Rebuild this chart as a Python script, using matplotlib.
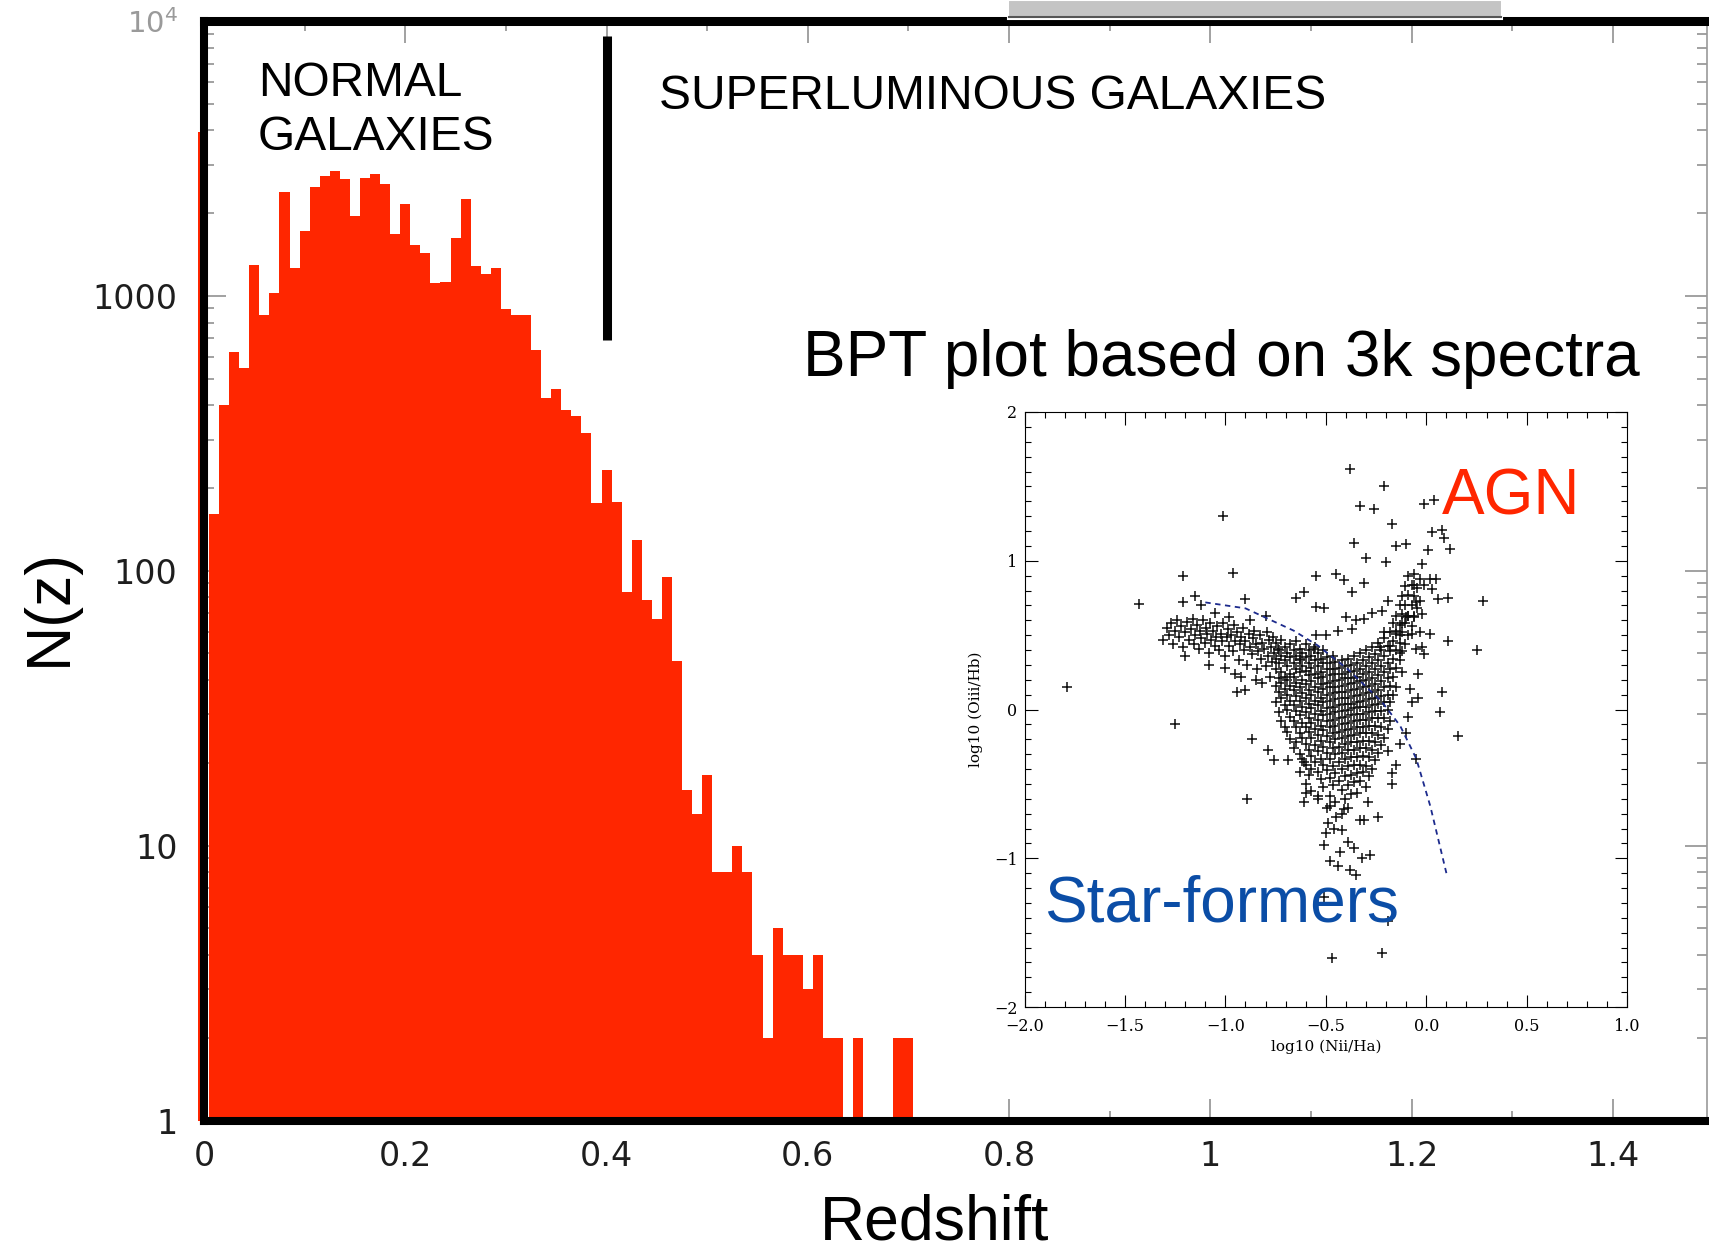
import numpy as np
import matplotlib
matplotlib.use("Agg")
import matplotlib.pyplot as plt
from matplotlib.patches import Rectangle

W, H = 1709, 1255
RED = "#FF2600"
BLUE = "#0B4DA6"
SANS = ["Liberation Sans", "DejaVu Sans"]

# ---------------- histogram data (N(z) per 0.01 bin) ----------------
z_centers = np.round(np.arange(0.01, 0.705, 0.01), 2)
counts = [161, 402, 624, 547, 1291, 849, 1021, 2387, 1266, 1721,
          2489, 2729, 2845, 2653, 1951, 2692, 2767, 2543, 1683, 2163,
          1537, 1434, 1116, 1120, 1627, 2243, 1282, 1206, 1266, 898,
          849, 849, 638, 426, 459, 384, 367, 318, 177, 232,
          178, 84, 129, 78, 67, 95, 47, 16, 13, 18,
          8, 8, 10, 8, 4, 2, 5, 4, 4, 3,
          4, 2, 2, 1, 2, 1, 1, 1, 2, 2]
z0_count = 3940          # z ~ 0 bin, mostly hidden behind the axis
divider_z = 0.4

x_ticks = [0, 0.2, 0.4, 0.6, 0.8, 1.0, 1.2, 1.4]
x_ticklabels = ["0", "0.2", "0.4", "0.6", "0.8", "1", "1.2", "1.4"]
y_ticks = [1, 10, 100, 1000, 10000]
y_ticklabels = ["1", "10", "100", "1000", r"$10^4$"]

# ---------------- BPT inset data ----------------
# isolated points
out_x = [-0.38, -0.21, -0.33, -0.26, -0.17, -0.01, 0.04, -1.01, 0.03, 0.08,
         0.09, 0.12, -0.36, -0.15, -0.10, 0.01, -0.30, -0.20, -0.02, -0.96,
         -1.21, -1.43, -0.55, -0.45, -0.41, -0.31, -0.37, -0.61, -0.65, -0.90,
         -1.15, -1.21, 0.28, 0.11, 0.06, 0.03, -0.01, 0.02, 0.05, -0.06,
         -0.05, 0.25, 0.11, 0.02, -0.03, -0.07, -0.02, -0.06, -0.10, 0.08,
         0.07, 0.16, -1.79, -1.25, -0.89, -0.87, -0.79, -0.76, -0.69, -0.61,
         -0.51, -0.48, -0.44, -0.43, -0.38, -0.35, -0.32, -0.28, -0.36, -0.39,
         -0.42, -0.46, -0.50, -0.49, -0.45, -0.33, -0.31, -0.24, -0.41, -0.48,
         -0.54, -0.60, -0.61, -0.29, -0.19, -0.22, -0.47, -0.51, -0.17, -0.17,
         -0.15, -0.13, -0.10, -0.05, -0.09, -0.07, -0.04, -0.08, -0.04, -0.01,
         -0.02, -0.05, -0.13, -0.18, -0.23, -0.13, -0.15, -0.21, -0.12, -0.09,
         -0.19, -0.22, -0.27, -0.31, -0.35, -0.40, -0.37, -0.44, -0.50, -0.55,
         -0.55, -0.51, -0.56, -0.63, -0.74, -1.12, -1.05, -0.98, -0.88, -0.80,
         -1.20, -1.00, -0.92, -0.94, -0.90, -0.85, -0.82, -0.95, -1.08]
out_y = [1.62, 1.50, 1.37, 1.35, 1.25, 1.38, 1.41, 1.30, 1.19, 1.21,
         1.15, 1.08, 1.12, 1.10, 1.11, 1.07, 1.02, 0.99, 0.98, 0.92,
         0.90, 0.71, 0.90, 0.91, 0.87, 0.85, 0.79, 0.79, 0.75, 0.74,
         0.76, 0.72, 0.73, 0.75, 0.74, 0.81, 0.84, 0.88, 0.88, 0.84,
         0.72, 0.40, 0.46, 0.51, 0.52, 0.51, 0.64, 0.63, 0.62, 0.12,
         -0.02, -0.18, 0.15, -0.10, -0.60, -0.20, -0.27, -0.34, -0.34, -0.35,
         -0.91, -1.02, -1.05, -0.96, -1.08, -1.11, -1.00, -0.98, -0.93, -0.89,
         -0.81, -0.80, -0.83, -0.76, -0.72, -0.74, -0.74, -0.72, -0.67, -0.65,
         -0.58, -0.56, -0.62, -0.62, -1.42, -1.64, -1.67, -1.26, -0.50, -0.43,
         -0.37, -0.23, -0.16, -0.33, -0.05, 0.05, 0.08, 0.14, 0.24, 0.37,
         0.42, 0.41, 0.38, 0.43, 0.42, 0.50, 0.53, 0.52, 0.58, 0.63,
         0.73, 0.66, 0.65, 0.61, 0.60, 0.62, 0.54, 0.53, 0.50, 0.50,
         0.69, 0.68, 0.41, 0.34, 0.41, 0.70, 0.65, 0.62, 0.60, 0.63,
         0.36, 0.28, 0.22, 0.12, 0.13, 0.20, 0.18, 0.24, 0.30]

# left (star-forming) arm
arm_x = [-1.31, -1.29, -1.28, -1.27, -1.26, -1.25, -1.24, -1.23, -1.22, -1.21,
         -1.20, -1.19, -1.18, -1.17, -1.16, -1.155, -1.15, -1.14, -1.13, -1.125,
         -1.12, -1.11, -1.10, -1.095, -1.09, -1.08, -1.075, -1.07, -1.06, -1.05,
         -1.045, -1.04, -1.03, -1.02, -1.015, -1.01, -1.00, -0.99, -0.985, -0.98,
         -0.97, -0.96, -0.955, -0.95, -0.94, -0.93, -0.925, -0.92, -0.91, -0.905,
         -0.90, -0.89, -0.885, -0.88, -0.87, -0.865, -0.86, -0.85, -0.845, -0.84,
         -0.83, -0.825, -0.82, -0.81, -0.80, -0.795, -0.79, -0.785, -0.78, -0.775,
         -0.77, -0.765, -0.76]
arm_y = [0.47, 0.55, 0.50, 0.58, 0.44, 0.53, 0.60, 0.49, 0.56, 0.42,
         0.52, 0.59, 0.47, 0.54, 0.61, 0.44, 0.50, 0.57, 0.41, 0.53,
         0.48, 0.60, 0.45, 0.55, 0.51, 0.38, 0.58, 0.47, 0.53, 0.43,
         0.49, 0.56, 0.40, 0.51, 0.46, 0.58, 0.36, 0.49, 0.54, 0.43,
         0.50, 0.39, 0.57, 0.46, 0.52, 0.33, 0.44, 0.49, 0.55, 0.40,
         0.46, 0.30, 0.51, 0.42, 0.37, 0.48, 0.53, 0.44, 0.27, 0.39,
         0.50, 0.34, 0.45, 0.41, 0.29, 0.52, 0.36, 0.47, 0.22, 0.42,
         0.32, 0.49, 0.38]

# dense central clump, column by column
core_cols = [
    (-0.748, [0.45, 0.34, 0.27, 0.16, 0.05]),
    (-0.733, [0.40, 0.31, 0.21, 0.12, -0.02]),
    (-0.721, [0.47, 0.36, 0.25, 0.18, 0.08, -0.08]),
    (-0.704, [0.42, 0.33, 0.22, 0.14, 0.03, -0.12]),
    (-0.692, [0.38, 0.29, 0.20, 0.10, 0.00, -0.15]),
    (-0.676, [0.44, 0.35, 0.24, 0.16, 0.06, -0.05, -0.20]),
    (-0.659, [0.40, 0.31, 0.22, 0.13, 0.03, -0.08, -0.26]),
    (-0.647, [0.46, 0.36, 0.27, 0.18, 0.09, -0.01, -0.12, -0.22]),
    (-0.628, [0.41, 0.33, 0.25, 0.15, 0.06, -0.04, -0.16, -0.30, -0.42]),
    (-0.617, [0.38, 0.29, 0.20, 0.11, 0.02, -0.09, -0.19, -0.33]),
    (-0.601, [0.44, 0.35, 0.26, 0.17, 0.08, -0.02, -0.12, -0.23, -0.37, -0.50]),
    (-0.584, [0.40, 0.31, 0.23, 0.13, 0.04, -0.06, -0.15, -0.27, -0.44]),
    (-0.572, [0.36, 0.28, 0.19, 0.10, 0.01, -0.09, -0.19, -0.31, -0.40, -0.55]),
    (-0.553, [0.42, 0.33, 0.24, 0.15, 0.06, -0.03, -0.13, -0.24, -0.35]),
    (-0.541, [0.38, 0.29, 0.21, 0.12, 0.03, -0.07, -0.17, -0.28, -0.42, -0.60]),
    (-0.524, [0.34, 0.25, 0.17, 0.08, -0.01, -0.11, -0.21, -0.33, -0.47]),
    (-0.512, [0.40, 0.31, 0.22, 0.14, 0.05, -0.04, -0.14, -0.25, -0.37, -0.52]),
    (-0.493, [0.35, 0.27, 0.18, 0.10, 0.01, -0.08, -0.18, -0.29, -0.41, -0.66]),
    (-0.481, [0.31, 0.23, 0.15, 0.06, -0.03, -0.12, -0.22, -0.33, -0.46, -0.58]),
    (-0.464, [0.36, 0.27, 0.19, 0.11, 0.02, -0.07, -0.16, -0.26, -0.38, -0.51]),
    (-0.452, [0.32, 0.24, 0.15, 0.07, -0.02, -0.11, -0.20, -0.30, -0.43, -0.62]),
    (-0.433, [0.28, 0.20, 0.12, 0.03, -0.06, -0.15, -0.25, -0.35, -0.48]),
    (-0.421, [0.33, 0.24, 0.16, 0.08, -0.01, -0.10, -0.19, -0.29, -0.40, -0.54, -0.70]),
    (-0.404, [0.29, 0.21, 0.12, 0.04, -0.05, -0.14, -0.23, -0.33, -0.45, -0.60]),
    (-0.392, [0.34, 0.25, 0.17, 0.08, 0.00, -0.09, -0.18, -0.27, -0.38, -0.51, -0.66]),
    (-0.373, [0.30, 0.21, 0.13, 0.04, -0.04, -0.13, -0.22, -0.32, -0.44, -0.57]),
    (-0.361, [0.36, 0.26, 0.18, 0.09, 0.01, -0.08, -0.17, -0.27, -0.37, -0.49]),
    (-0.344, [0.31, 0.22, 0.14, 0.05, -0.03, -0.12, -0.22, -0.32, -0.43, -0.56]),
    (-0.332, [0.38, 0.27, 0.19, 0.10, 0.02, -0.07, -0.16, -0.26, -0.37, -0.48]),
    (-0.313, [0.33, 0.24, 0.15, 0.06, -0.03, -0.12, -0.21, -0.31, -0.42]),
    (-0.301, [0.40, 0.29, 0.20, 0.11, 0.02, -0.07, -0.16, -0.26, -0.38, -0.52]),
    (-0.284, [0.35, 0.25, 0.16, 0.07, -0.02, -0.11, -0.21, -0.32, -0.45]),
    (-0.272, [0.42, 0.31, 0.21, 0.12, 0.03, -0.06, -0.16, -0.27, -0.40]),
    (-0.253, [0.37, 0.27, 0.17, 0.08, -0.01, -0.11, -0.22, -0.34]),
    (-0.241, [0.45, 0.33, 0.23, 0.13, 0.04, -0.06, -0.17, -0.29]),
    (-0.224, [0.40, 0.29, 0.19, 0.09, -0.01, -0.12, -0.24]),
    (-0.212, [0.48, 0.36, 0.25, 0.15, 0.05, -0.06, -0.19]),
    (-0.193, [0.43, 0.31, 0.21, 0.10, 0.00, -0.13, -0.28]),
    (-0.181, [0.52, 0.39, 0.27, 0.16, 0.05, -0.08]),
    (-0.164, [0.58, 0.46, 0.34, 0.22, 0.10]),
    (-0.152, [0.63, 0.51, 0.40, 0.28, 0.15]),
    (-0.133, [0.70, 0.57, 0.45, 0.33]),
    (-0.121, [0.76, 0.64, 0.52, 0.39, 0.25]),
    (-0.104, [0.83, 0.70, 0.58, 0.44]),
    (-0.092, [0.90, 0.77, 0.63, 0.50]),
    (-0.073, [0.84, 0.70, 0.56]),
    (-0.061, [0.91, 0.76, 0.62]),
    (-0.044, [0.82, 0.68]),
    (-0.032, [0.88, 0.73]),
]

curve_x = [-1.10, -0.90, -0.66, -0.54, -0.39, -0.22, -0.13, -0.05, 0.02, 0.10]
curve_y = [0.72, 0.68, 0.53, 0.43, 0.27, 0.05, -0.11, -0.33, -0.65, -1.10]

# ---------------- figure ----------------
fig = plt.figure(figsize=(W / 100, H / 100), dpi=100)
fig.patch.set_facecolor("white")


def fx(px):
    return px / W


def fy(py):
    return 1 - py / H


ax = fig.add_axes([fx(204), fy(1120.5), (1707 - 204) / W, (1120.5 - 21) / H])
ax.set_yscale("log")
ax.set_xlim(0, 1.4935)
ax.set_ylim(1, 1e4)

edges = np.append(z_centers - 0.005, z_centers[-1] + 0.005)
ax.stairs(counts, edges, baseline=1, fill=True, color=RED, linewidth=0)
ax.bar([0.0], [z0_count - 1], width=-0.006, align="edge", bottom=1,
       color=RED, linewidth=0, clip_on=False)

ax.axvline(divider_z, ymin=0.710, ymax=0.986, color="black", linewidth=6.5,
           solid_capstyle="butt")

for side in ["left", "bottom"]:
    ax.spines[side].set_linewidth(5.8)
ax.spines["top"].set_linewidth(6.5)
ax.spines["right"].set_linewidth(1.2)
ax.spines["right"].set_color("#9a9a9a")
ax.set_axisbelow(True)

ax.set_xticks(x_ticks)
ax.set_xticklabels(x_ticklabels)
ax.xaxis.set_minor_locator(matplotlib.ticker.MultipleLocator(0.1))
ax.set_yticks(y_ticks)
ax.set_yticklabels(y_ticklabels)
ax.tick_params(axis="both", which="both", direction="in", color="#9a9a9a",
               top=True, right=True, width=1.3)
ax.tick_params(axis="both", which="major", length=16, labelsize=24,
               labelcolor="#1e1e1e")
ax.tick_params(axis="both", which="minor", length=7)
ax.tick_params(axis="x", which="major", pad=14)
ax.tick_params(axis="y", which="major", pad=19)
ax.tick_params(axis="y", which="minor", labelleft=False)
for lab in ax.get_xticklabels() + ax.get_yticklabels():
    lab.set_family("DejaVu Sans")
top_lab = ax.get_yticklabels()[-1]
top_lab.set_color("#9a9a9a")
top_lab.set_fontsize(21)

# labels and annotations
fig.text(fx(935), fy(1240), "Redshift", fontsize=45, family=SANS,
         ha="center", va="baseline")
fig.text(fx(49), fy(607), "N(z)", fontsize=45, family=SANS, rotation=90,
         ha="center", va="center")
fig.text(fx(258), fy(96), "NORMAL", fontsize=34.5, family=SANS, va="baseline")
fig.text(fx(258), fy(150.5), "GALAXIES", fontsize=34.5, family=SANS, va="baseline")
fig.text(fx(659), fy(109), "SUPERLUMINOUS GALAXIES", fontsize=34.5, family=SANS,
         va="baseline")
fig.text(fx(803), fy(376), "BPT plot based on 3k spectra", fontsize=46,
         family=SANS, va="baseline")

# gray box cut at the top edge
fig.patches.append(Rectangle((fx(1008), fy(19)), (1502 - 1008) / W, 19 / H,
                             transform=fig.transFigure, facecolor="#c4c4c4",
                             edgecolor="white", linewidth=1.5, zorder=5))
fig.lines.append(matplotlib.lines.Line2D([fx(1009), fx(1501)], [fy(17), fy(17)],
                                         transform=fig.transFigure,
                                         color="#555555", linewidth=1.5, zorder=6))

# ---------------- inset BPT ----------------
ins = fig.add_axes([fx(1024.5), fy(1007), (1627.2 - 1024.5) / W, (1007 - 412) / H])
ins.set_facecolor("white")
ins.set_xlim(-2.0, 1.0)
ins.set_ylim(-2, 2)

cx, cy = [], []
for xv, ys in core_cols:
    for yv in ys:
        cx.append(xv)
        cy.append(yv)
ins.scatter(out_x + arm_x + cx, out_y + arm_y + cy, marker="+", s=50,
            color="#0e0e0e", linewidths=1.1)
ins.plot(curve_x, curve_y, linestyle=(0, (3, 2.5)), color="#1c2a8c", linewidth=1.3)

ins.set_xticks([-2.0, -1.5, -1.0, -0.5, 0.0, 0.5, 1.0])
ins.set_xticklabels(["\u22122.0", "\u22121.5", "\u22121.0", "\u22120.5", "0.0", "0.5", "1.0"])
ins.set_yticks([-2, -1, 0, 1, 2])
ins.set_yticklabels(["\u22122", "\u22121", "0", "1", "2"])
ins.xaxis.set_minor_locator(matplotlib.ticker.MultipleLocator(0.1))
ins.yaxis.set_minor_locator(matplotlib.ticker.MultipleLocator(0.1))
ins.tick_params(axis="both", which="both", direction="in", top=True, right=True,
                width=0.8, labelsize=11.5)
ins.tick_params(axis="x", which="major", pad=8)
ins.tick_params(axis="y", which="major", pad=5)
ins.tick_params(axis="both", which="major", length=9)
ins.tick_params(axis="both", which="minor", length=4)
for lab in ins.get_xticklabels() + ins.get_yticklabels():
    lab.set_family("DejaVu Serif")
for s in ins.spines.values():
    s.set_linewidth(0.8)
ins.set_xlabel("log10 (Nii/Ha)", family="DejaVu Serif", fontsize=11, labelpad=3)
ins.set_ylabel("log10 (Oiii/Hb)", family="DejaVu Serif", fontsize=11, labelpad=8)

fig.text(fx(1442), fy(514.5), "AGN", fontsize=46, family=SANS, color=RED,
         va="baseline")
fig.text(fx(1044), fy(921), "Star-formers", fontsize=46, family=SANS,
         color=BLUE, va="baseline")

fig.savefig("out.png", dpi=100)
